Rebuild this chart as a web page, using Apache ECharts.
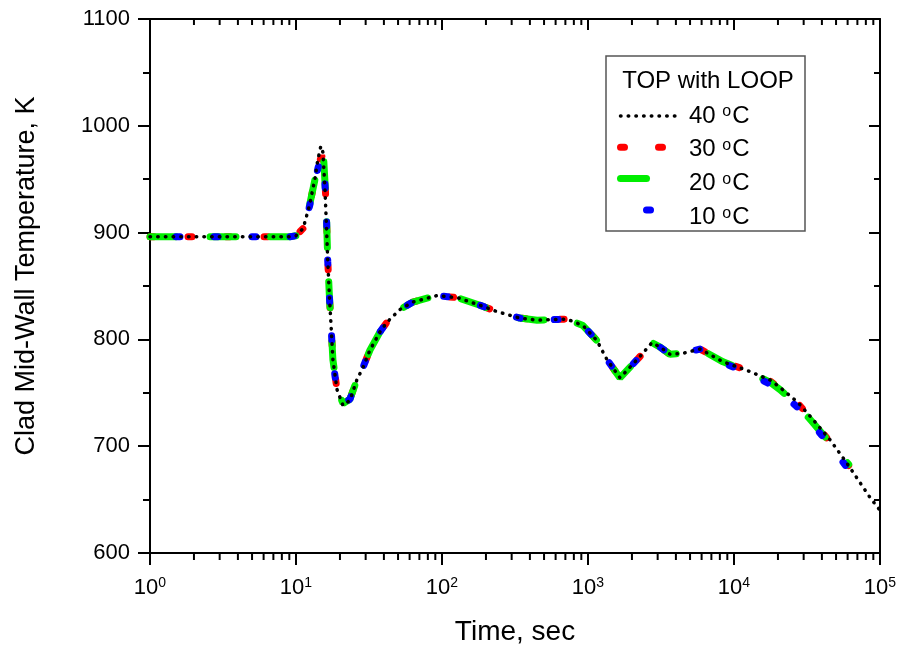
<!DOCTYPE html>
<html>
<head>
<meta charset="utf-8">
<title>Clad Mid-Wall Temperature</title>
<script src="https://cdn.jsdelivr.net/npm/echarts@6/dist/echarts.min.js"></script>
<style>
  html, body { margin: 0; padding: 0; background: #fff; }
  #chart { width: 900px; height: 652px; }
</style>
</head>
<body>
<div id="chart"></div>
<script>
// values (time in sec, temperature in K)
const time40 = [1, 2, 5, 9, 10, 11.2, 12.4, 13.5, 14.1, 14.8, 15.3, 15.8, 16.1, 16.5, 16.9, 17.4, 17.9, 19.1, 21, 23.4, 26.1, 28.8, 32.1, 37.6, 41.9, 51.5, 63.1, 92, 128, 182, 238, 341, 448, 718, 924, 1150, 1350, 1656, 2270, 2742, 3100, 3648, 4478, 5850, 8410, 12270, 17660, 20650, 27420, 34760, 45450, 59430, 85400, 100000];
const temp40 = [896, 896, 896, 896, 897, 904, 926, 951, 968, 981, 975, 940, 912, 874, 843, 812, 781, 753, 738, 743, 762, 774, 790, 807, 816, 828, 835, 841, 839, 832, 826, 820, 818, 819, 813, 799, 781, 764, 784, 797, 793, 786, 787, 791, 779, 771, 762, 755, 741, 725, 706, 684, 652, 640];

// the 30/20/10 C runs stop near 6e4 s
const timeLoop = [1, 2, 5, 9, 10, 11.2, 12.4, 13.5, 14.3, 15.0, 15.5, 15.9, 16.2, 16.5, 16.9, 17.4, 17.9, 19.1, 21, 23.4, 26.1, 28.8, 32.1, 37.6, 41.9, 51.5, 63.1, 92, 128, 182, 238, 341, 448, 718, 924, 1150, 1350, 1656, 2270, 2742, 3100, 3648, 4478, 5850, 8410, 12270, 17660, 20650, 27420, 34760, 45450, 61000];
const temp30 = [896, 896, 896, 896, 897, 904, 926, 950, 965, 972, 966, 940, 912, 874, 843, 812, 781, 753, 740, 744, 762, 774, 790, 807, 816, 828, 835, 841, 839, 832, 826, 820, 818, 819, 813, 799, 781, 764, 784, 797, 793, 786, 787, 791, 779, 771, 761, 754, 740, 724, 704, 682];
const temp20 = [896, 896, 896, 896, 897, 904, 926, 950, 965, 973, 967, 940, 912, 874, 843, 812, 781, 753, 740, 744, 762, 774, 790, 807, 816, 828, 835, 841, 839, 832, 826, 820, 818, 819, 813, 799, 781, 764, 784, 797, 793, 786, 787, 791, 779, 770, 760, 753, 738, 722, 703, 683];
const temp10 = [896, 896, 896, 896, 897, 904, 925, 949, 963, 969, 964, 938, 911, 873, 842, 811, 780, 752, 740, 744, 762, 774, 790, 807, 816, 828, 835, 841, 839, 832, 826, 820, 818, 819, 813, 799, 781, 764, 784, 797, 793, 786, 787, 791, 778, 769, 758, 751, 736, 720, 701, 678];

const seriesNames = ['40 °C', '30 °C', '20 °C', '10 °C'];
const legendTitle = 'TOP with LOOP';

// log minor tick positions (2..9 of each decade)
const minorX = [2, 3, 4, 5, 6, 7, 8, 9,
  20, 30, 40, 50, 60, 70, 80, 90,
  200, 300, 400, 500, 600, 700, 800, 900,
  2000, 3000, 4000, 5000, 6000, 7000, 8000, 9000,
  20000, 30000, 40000, 50000, 60000, 70000, 80000, 90000];

const font = 'Liberation Sans';

const pairs = (xs, ys) => xs.map((x, i) => [x, ys[i]]);

const chart = echarts.init(document.getElementById('chart'), null, { renderer: 'canvas' });

const supLabel = v => '{b|10}{s|' + Math.round(Math.log10(v)) + '}';

// legend rows: the legend draws the line samples, the labels are rich text next to them
const legendTop = 104;
const legendPitch = 33.7;
const degRich = {
  n: { fontFamily: font, fontSize: 24, lineHeight: 24, color: '#000' },
  s: { fontFamily: font, fontSize: 16, lineHeight: 10, verticalAlign: 'top', color: '#000', padding: [0, 1, 0, 0] }
};
const legendLabels = seriesNames.map((name, i) => ({
  type: 'text',
  x: 689,
  y: legendTop + 12 + i * legendPitch,
  z: 10,
  style: {
    text: '{n|' + name.split(' ')[0] + ' }{s|o}{n|C}',
    rich: degRich,
    align: 'left',
    verticalAlign: 'middle'
  }
}));

const option = {
  backgroundColor: '#fff',
  animation: false,
  textStyle: { fontFamily: font, color: '#000' },
  grid: { left: 150, right: 20, top: 19, bottom: 99, outerBoundsMode: 'none' },
  legend: {
    data: seriesNames,
    orient: 'vertical',
    left: 617,
    top: legendTop,
    padding: 0,
    itemWidth: 58,
    itemHeight: 24,
    itemGap: legendPitch - 24,
    selectedMode: false,
    itemStyle: { opacity: 0 },
    lineStyle: { width: 'inherit' },
    formatter: () => '',
    textStyle: { fontSize: 1 }
  },
  graphic: [
    {
      type: 'rect',
      shape: { x: 606, y: 56, width: 199, height: 175 },
      style: { fill: 'none', stroke: '#555', lineWidth: 1.5 },
      z: 10
    },
    {
      type: 'text',
      x: 708, y: 81,
      style: { text: legendTitle, fontFamily: font, fontSize: 24, fill: '#000', align: 'center', verticalAlign: 'middle' },
      z: 10
    }
  ].concat(legendLabels),
  xAxis: [
    {
      type: 'log',
      logBase: 10,
      min: 1,
      max: 100000,
      name: 'Time, sec',
      nameLocation: 'middle',
      nameGap: 65,
      nameTextStyle: { fontFamily: font, fontSize: 28, color: '#000' },
      axisLine: { lineStyle: { color: '#000', width: 2 } },
      axisTick: { show: true, inside: false, length: 12, lineStyle: { color: '#000', width: 2 } },
      splitLine: { show: false },
      axisLabel: {
        margin: 23,
        formatter: supLabel,
        rich: {
          b: { fontFamily: font, fontSize: 22, lineHeight: 24, color: '#000' },
          s: { fontFamily: font, fontSize: 14, lineHeight: 12, verticalAlign: 'top', color: '#000' }
        }
      }
    },
    {
      type: 'log',
      logBase: 10,
      min: 1,
      max: 100000,
      position: 'top',
      axisLine: { lineStyle: { color: '#000', width: 2 } },
      axisTick: { show: true, inside: true, length: 11, lineStyle: { color: '#000', width: 2 } },
      axisLabel: { show: false },
      splitLine: { show: false }
    }
  ],
  yAxis: [
    {
      type: 'value',
      min: 600,
      max: 1100,
      interval: 100,
      name: 'Clad Mid-Wall Temperature, K',
      nameLocation: 'middle',
      nameGap: 110,
      nameTextStyle: { fontFamily: font, fontSize: 27, color: '#000', padding: [0, 0, 0, 20] },
      axisLine: { show: true, lineStyle: { color: '#000', width: 2 } },
      axisTick: { show: true, inside: false, length: 12, lineStyle: { color: '#000', width: 2 } },
      minorTick: { show: true, splitNumber: 2, length: 7, lineStyle: { color: '#000', width: 2 } },
      splitLine: { show: false },
      axisLabel: { margin: 20, fontFamily: font, fontSize: 22, color: '#000', formatter: v => String(v) }
    },
    {
      type: 'value',
      min: 600,
      max: 1100,
      interval: 100,
      position: 'right',
      axisLine: { show: true, lineStyle: { color: '#000', width: 2 } },
      axisTick: { show: true, inside: true, length: 11, lineStyle: { color: '#000', width: 2 } },
      minorTick: { show: true, splitNumber: 2, length: 6, lineStyle: { color: '#000', width: 2 } },
      splitLine: { show: false },
      axisLabel: { show: false }
    }
  ],
  series: [
    {
      name: seriesNames[1],
      type: 'line',
      data: pairs(timeLoop, temp30),
      symbol: 'none',
      z: 2,
      lineStyle: { color: '#ff0000', width: 7, type: [4, 34], cap: 'round' }
    },
    {
      name: seriesNames[2],
      type: 'line',
      data: pairs(timeLoop, temp20),
      symbol: 'none',
      z: 3,
      lineStyle: { color: '#00ee00', width: 7, type: [26, 34], cap: 'round' }
    },
    {
      name: seriesNames[3],
      type: 'line',
      data: pairs(timeLoop, temp10),
      symbol: 'none',
      z: 4,
      lineStyle: { color: '#0000ff', width: 7, type: [4, 34], cap: 'round', dashOffset: 12 }
    },
    {
      name: seriesNames[0],
      type: 'line',
      data: pairs(time40, temp40),
      symbol: 'none',
      z: 5,
      lineStyle: { color: '#000', width: 3.5, type: [0.5, 7.2], cap: 'round' }
    },
    {
      // minor ticks of the log axes, placed through the axis scale
      type: 'custom',
      silent: true,
      clip: false,
      z: 6,
      data: minorX.map(v => [v, 600]),
      renderItem: (params, api) => {
        const b = api.coord([api.value(0), 600]);
        const t = api.coord([api.value(0), 1100]);
        return {
          type: 'group',
          children: [
            { type: 'line', shape: { x1: b[0], y1: b[1], x2: b[0], y2: b[1] + 7 }, style: { stroke: '#000', lineWidth: 2 } },
            { type: 'line', shape: { x1: t[0], y1: t[1], x2: t[0], y2: t[1] + 6 }, style: { stroke: '#000', lineWidth: 2 } }
          ]
        };
      }
    }
  ]
};

chart.setOption(option);
</script>
</body>
</html>
